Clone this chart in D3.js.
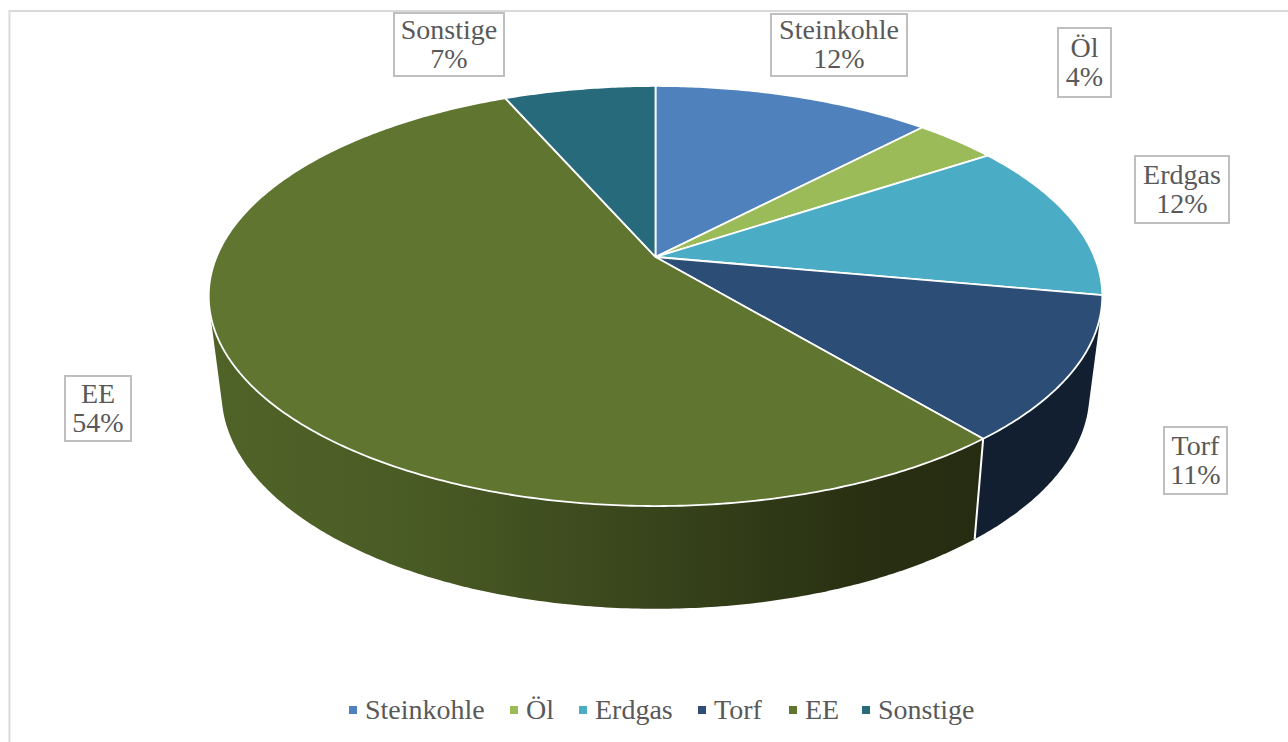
<!DOCTYPE html>
<html><head><meta charset="utf-8">
<script src="https://cdn.jsdelivr.net/npm/d3@7"></script>
<style>html,body{margin:0;padding:0;background:#fff}svg{display:block}</style></head>
<body><svg id="c" width="1288" height="742"></svg>
<script>
const categories = ["Steinkohle","Öl","Erdgas","Torf","EE","Sonstige"];
const values = [12.1,3.6,12.2,11.05,54.49,6.56];
const percentLabels = ["12%","4%","12%","11%","54%","7%"];
const topColors = ["#4f81bd","#9bbb59","#4bacc6","#2c4d75","#5f7530","#276a7c"];
const sideColors = ["#2a4466","#536432","#286070","#111f30","#3b4a1c","#14404c"];

const FONT = "'Liberation Serif','DejaVu Serif',serif";
const TEXT = "#595959";
const svg = d3.select("#c");
const defs = svg.append("defs");

// frame
svg.append("path").attr("d","M9.5,742V11H1288").attr("fill","none").attr("stroke","#d9d9d9").attr("stroke-width",2);

// perspective projection of a unit disc
const cx = 655.5;
function projector(cy,k,m,p){
  return a=>{const u=Math.sin(a),v=Math.cos(a),w=1+p*v;return [cx+k*u/w,cy-m*v/w];};
}
const topP = projector(257,439,202.8,0.1857);
const botP = projector(352,426,208,0.19);
const apex = [cx,257];

const arcs = d3.pie().value(d=>d).sort(null)(values);
const line = d3.line();
function samples(a0,a1){
  const n=Math.max(2,Math.ceil((a1-a0)/0.01));
  return d3.range(n+1).map(i=>a0+(a1-a0)*i/n);
}

// EE side gradient
const grad = defs.append("linearGradient").attr("id","eeSide").attr("gradientUnits","userSpaceOnUse")
  .attr("x1",209).attr("x2",985).attr("y1",0).attr("y2",0);
[[0,"#506327"],[0.25,"#4a5c25"],[0.55,"#39461c"],[0.85,"#282f12"],[1,"#262c11"]].forEach(s=>
  grad.append("stop").attr("offset",s[0]).attr("stop-color",s[1]));

// side walls: hull of the top and bottom rim of each front slice
const g = svg.append("g");
arcs.forEach((d,i)=>{
  const lo=Math.max(d.startAngle,Math.PI*0.5), hi=Math.min(d.endAngle,Math.PI*1.5);
  if(hi<=lo) return;
  const as=samples(lo,hi);
  const hull=d3.polygonHull(as.map(topP).concat(as.map(botP)));
  g.append("path").attr("d",line(hull)+"Z")
    .attr("fill",categories[i]==="EE"?"url(#eeSide)":sideColors[i]);
});
// wall seam between Torf and EE
const seam=arcs[3].endAngle;
g.append("path").attr("d",line([topP(seam),botP(seam)])).attr("stroke","#fff").attr("stroke-width",2).attr("fill","none");

// top faces
arcs.forEach((d,i)=>{
  const pts=[apex].concat(samples(d.startAngle,d.endAngle).map(topP));
  g.append("path").attr("d",line(pts)+"Z").attr("fill",topColors[i])
    .attr("stroke","#fff").attr("stroke-width",1.8).attr("stroke-linejoin","round");
});

// data labels
const labelBoxes = [[771,14,136,62],[1058,28,53,69],[1135,156,94,67],[1164,427,63,67],[65,376,66,65],[394,13,110,63]];
labelBoxes.forEach((b,i)=>{
  const t=svg.append("g");
  t.append("rect").attr("x",b[0]).attr("y",b[1]).attr("width",b[2]).attr("height",b[3])
    .attr("fill","#fff").attr("stroke","#bfbfbf").attr("stroke-width",2);
  [categories[i],percentLabels[i]].forEach((s,j)=>{
    t.append("text").attr("x",b[0]+b[2]/2).attr("y",b[1]+b[3]/2+(j?23:-6))
      .attr("text-anchor","middle").attr("font-family",FONT).attr("font-size",28).attr("fill",TEXT).text(s);
  });
});

// legend
const legendX = [349,510,579,698,789,862];
categories.forEach((c,i)=>{
  svg.append("rect").attr("x",legendX[i]).attr("y",706).attr("width",8).attr("height",8).attr("fill",topColors[i]);
  svg.append("text").attr("x",legendX[i]+16).attr("y",719).attr("font-family",FONT).attr("font-size",28).attr("fill",TEXT).text(c);
});
</script></body></html>
